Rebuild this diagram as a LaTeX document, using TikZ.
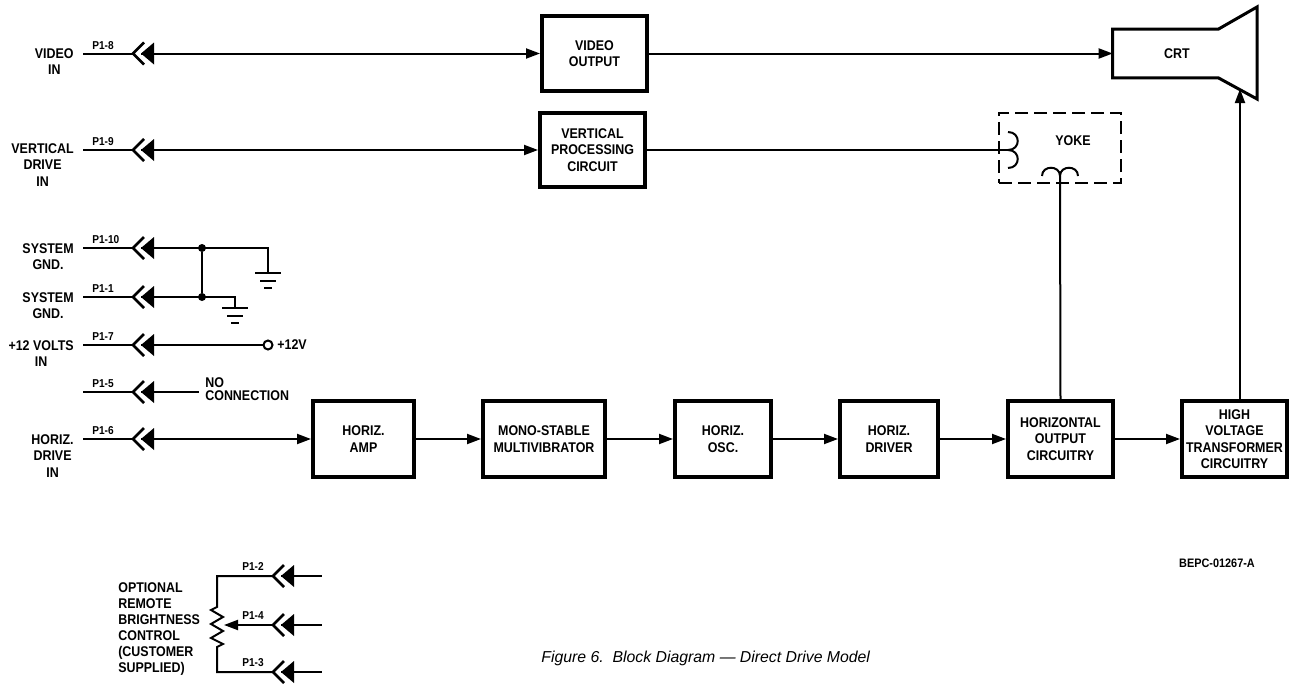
\documentclass[tikz,border=0pt]{standalone}
\usepackage{fontspec}
\newfontfamily\diafont{Liberation Sans}[FakeStretch=0.885]
\newfontfamily\capfont{Liberation Sans}
\usetikzlibrary{arrows.meta}
\newcommand{\boxfont}{\diafont\bfseries\fontsize{8}{9.4}\selectfont}
\newcommand{\pinfont}{\diafont\bfseries\fontsize{6.5}{7.5}\selectfont}

\tikzset{
  wire/.style={line width=0.4mm},
  blk/.style={draw, line width=0.8mm, align=center, inner sep=0pt, font=\boxfont},
  lbl/.style={align=center, inner sep=0pt, font=\boxfont},
  pinlbl/.style={inner sep=0pt, font=\pinfont, anchor=south west},
  dot/.style={circle, fill, inner sep=0pt, minimum size=1.6mm},
  plugsym/.pic={
    \draw[line width=0.55mm] (11,-11) -- (0,0) -- (11,11);
    \fill (8,0) -- (21,-11) -- (21,11) -- cycle;
  },
  gndsym/.pic={
    \draw[line width=0.4mm] (-13,0) -- (13,0) (-8,8) -- (8,8) (-4,15) -- (4,15);
  },
}

\begin{document}
\begin{tikzpicture}[x=0.2mm, y=-0.2mm, >={Triangle[length=2.8mm,width=2mm]}]
\useasboundingbox (0,0) rectangle (1297,685);

\foreach \n/\y in {8/53.5, 9/150, 10/248, 1/297, 7/345, 5/392, 6/439} {
  \coordinate (s\n) at (83,\y);
  \coordinate (j\n) at (133,\y);
  \coordinate (t\n) at (141,\y);
  \draw[wire] (s\n) -- (j\n);
  \pic at (j\n) {plugsym};
  \node[pinlbl] (lp\n) at (92,\y-4) {P1-\n};
}

\node[lbl, anchor=north east] (lvideo) at (74,48) {VIDEO\\IN};
\node[lbl, anchor=north east] (lvert) at (74,143) {VERTICAL\\DRIVE\\IN};
\node[lbl, anchor=north east] (lgnda) at (74,243) {SYSTEM\\GND.};
\node[lbl, anchor=north east] (lgndb) at (74,292) {SYSTEM\\GND.};
\node[lbl, anchor=north east] (lvolt) at (74,340) {+12 VOLTS\\IN};
\node[lbl, anchor=north east] (lhor) at (74,434) {HORIZ.\\DRIVE\\IN};

\node[blk, minimum width=21mm, minimum height=14.8mm] (vout) at (594.5,53.5) {VIDEO\\OUTPUT};
\node[blk, minimum width=21mm, minimum height=14.8mm] (vproc) at (592.5,150) {VERTICAL\\PROCESSING\\CIRCUIT};
\node[blk, minimum width=20.2mm, minimum height=15.2mm] (hamp) at (363.5,439) {HORIZ.\\AMP};
\node[blk, minimum width=24.4mm, minimum height=15.2mm] (mono) at (544,439) {MONO-STABLE\\MULTIVIBRATOR};
\node[blk, minimum width=19.2mm, minimum height=15.2mm] (hosc) at (723,439) {HORIZ.\\OSC.};
\node[blk, minimum width=19.6mm, minimum height=15.2mm] (hdrv) at (889,439) {HORIZ.\\DRIVER};
\node[blk, minimum width=21mm, minimum height=15.2mm] (hout) at (1060.5,439) {HORIZONTAL\\OUTPUT\\CIRCUITRY};
\node[blk, minimum width=21mm, minimum height=15.2mm] (hvt) at (1234.5,439) {HIGH\\VOLTAGE\\TRANSFORMER\\CIRCUITRY};

% crt
\node[minimum width=21mm, minimum height=9.6mm, inner sep=0pt] (crt) at (1165.5,53.5) {};
\node[lbl] (crtlbl) at (1177,53.5) {CRT};
\coordinate (fa) at (1257,7);
\coordinate (fb) at (1257,99);
\coordinate (crtin) at (1240,89);
\draw[line width=0.6mm] (crt.south east) -- (crt.south west) -- (crt.north west)
  -- (crt.north east) -- (fa) -- (fb) -- cycle;

% yoke
\node[draw, line width=0.4mm, dash pattern=on 2.6mm off 1.2mm, minimum width=24.4mm,
  minimum height=14mm] (yoke) at (1060,148) {};
\node[lbl] (yokelbl) at (1073,141) {YOKE};
\coordinate (cl) at (1008,150);
\coordinate (cb) at (1060,176);
\draw[wire] (1008,132) .. controls (1021,132) and (1021,150) .. (cl)
  .. controls (1021,150) and (1021,168) .. (1008,168);
\draw[wire] (1042,176) .. controls (1042,165) and (1060,165) .. (cb)
  .. controls (1060,165) and (1078,165) .. (1078,176);

\draw[wire,->] (t8) -- (vout.west);
\draw[wire,->] (vout.east) -- (crt.west);
\draw[wire,->] (t9) -- (vproc.west);
\draw[wire] (vproc.east) -- (cl);
\draw[wire] (hout.north) -- (cb);
\draw[wire,->] (crtin |- hvt.north) -- (crtin);

% grounds
\node[dot] (da) at (202,248) {};
\node[dot] (db) at (202,297) {};
\coordinate (ga) at (268,248);
\coordinate (gna) at (268,273);
\coordinate (gb) at (235,297);
\coordinate (gnb) at (235,308);
\draw[wire] (t10) -- (ga) -- (gna);
\draw[wire] (t1) -- (gb) -- (gnb);
\draw[wire] (da) -- (db);
\pic at (gna) {gndsym};
\pic at (gnb) {gndsym};

\node[circle, draw, wire, minimum size=1.8mm, inner sep=0pt] (v12) at (268,345) {};
\node[lbl, anchor=west] (v12lbl) at (277,345) {+12V};
\draw[wire] (t7) -- (v12);

\coordinate (nc) at (199,392);
\draw[wire] (t5) -- (nc);
\node[lbl, anchor=north west, align=left, font=\diafont\bfseries\fontsize{8}{7.6}\selectfont]
  (nclbl) at (205,377) {NO\\CONNECTION};

\draw[wire,->] (t6) -- (hamp.west);
\foreach \a/\b in {hamp/mono, mono/hosc, hosc/hdrv, hdrv/hout, hout/hvt}
  \draw[wire,->] (\a) -- (\b);

% brightness control
\foreach \n/\y in {2/576, 4/625, 3/672} {
  \coordinate (j\n) at (273,\y);
  \coordinate (t\n) at (281,\y);
  \coordinate (e\n) at (322,\y);
  \pic at (j\n) {plugsym};
  \draw[wire] (t\n) -- (e\n);
  \node[pinlbl] (lp\n) at (242,\y-5) {P1-\n};
}
\coordinate (ra) at (217,576);
\coordinate (rb) at (217,607);
\coordinate (rc) at (217,647);
\coordinate (rd) at (217,672);
\coordinate (wp) at (224,625);
\draw[wire] (j2) -- (ra) -- (rb) -- ++(-6,3) -- ++(12,7) -- ++(-12,7) -- ++(12,7)
  -- ++(-12,7) -- ++(12,6) -- (rc) -- (rd) -- (j3);
\draw[wire,->] (j4) -- (wp);
\node[lbl, anchor=north west, align=left, font=\diafont\bfseries\fontsize{8}{9.1}\selectfont]
  (lpot) at (118,582) {OPTIONAL\\REMOTE\\BRIGHTNESS\\CONTROL\\(CUSTOMER\\SUPPLIED)};

\node[inner sep=0pt, font=\diafont\bfseries\fontsize{7}{8}\selectfont] (code) at (1217,563) {BEPC-01267-A};
\node[inner sep=0pt, anchor=base west, font=\capfont\itshape\fontsize{9}{11}\selectfont]
  (cap) at (541,662) {Figure 6.\ \ Block Diagram — Direct Drive Model};
\end{tikzpicture}
\end{document}
